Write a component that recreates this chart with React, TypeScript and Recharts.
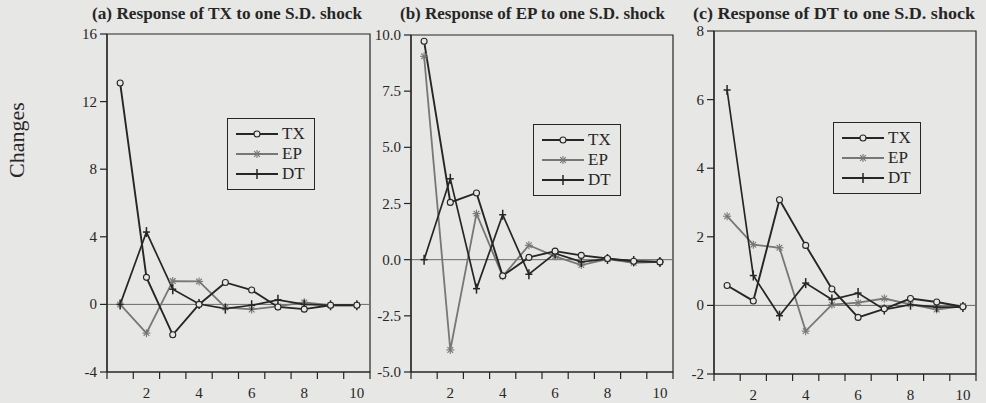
import React from "react";
import { LineChart, Line, XAxis, YAxis, ReferenceLine, ReferenceArea, Legend } from "recharts";

const periods = [1, 2, 3, 4, 5, 6, 7, 8, 9, 10];

// (a) response of TX
const txA = [13.1, 1.6, -1.8, 0.0, 1.3, 0.85, -0.15, -0.28, -0.05, -0.05];
const epA = [0.0, -1.7, 1.38, 1.36, -0.18, -0.3, -0.12, 0.12, -0.05, -0.05];
const dtA = [0.0, 4.28, 0.9, 0.02, -0.25, -0.05, 0.27, 0.0, -0.05, -0.05];

// (b) response of EP
const txB = [9.72, 2.55, 2.97, -0.72, 0.1, 0.38, 0.19, 0.05, -0.07, -0.1];
const epB = [9.05, -4.02, 2.05, -0.74, 0.64, 0.15, -0.24, 0.02, -0.14, -0.1];
const dtB = [0.0, 3.6, -1.29, 2.0, -0.65, 0.28, -0.1, 0.03, -0.06, -0.1];

// (c) response of DT
const txC = [0.58, 0.13, 3.08, 1.75, 0.48, -0.35, -0.1, 0.2, 0.1, -0.04];
const epC = [2.6, 1.77, 1.68, -0.75, 0.02, 0.08, 0.2, 0.03, -0.12, -0.02];
const dtC = [6.28, 0.87, -0.3, 0.65, 0.17, 0.36, -0.12, 0.02, -0.05, -0.05];

const yTicksA = [-4, 0, 4, 8, 12, 16];
const yTicksB = [-5, -2.5, 0, 2.5, 5, 7.5, 10];
const yTicksC = [-2, 0, 2, 4, 6, 8];
const xLabels = [2, 4, 6, 8, 10];
const xBounds = [0.5, 1.5, 2.5, 3.5, 4.5, 5.5, 6.5, 7.5, 8.5, 9.5, 10.5];

const BG = "#e7e7e5";
const INK = "#262626";
const GRAY = "#777777";
const FONT = "Liberation Serif, DejaVu Serif, serif";

const rows = (tx: number[], ep: number[], dt: number[]) =>
  periods.map((p, i) => ({ p, TX: tx[i], EP: ep[i], DT: dt[i] }));

const Circle = ({ cx, cy }: any) => (
  <circle cx={cx} cy={cy} r={3} fill={BG} stroke={INK} strokeWidth={1.1} />
);

const Star = ({ cx, cy }: any) => {
  const r = 4;
  const d = r * 0.71;
  return (
    <g stroke={GRAY} strokeWidth={1.1}>
      <line x1={cx - r} y1={cy} x2={cx + r} y2={cy} />
      <line x1={cx} y1={cy - r} x2={cx} y2={cy + r} />
      <line x1={cx - d} y1={cy - d} x2={cx + d} y2={cy + d} />
      <line x1={cx - d} y1={cy + d} x2={cx + d} y2={cy - d} />
    </g>
  );
};

const Plus = ({ cx, cy }: any) => (
  <g stroke={INK} strokeWidth={1.5}>
    <line x1={cx - 3.5} y1={cy} x2={cx + 3.5} y2={cy} />
    <line x1={cx} y1={cy - 5} x2={cx} y2={cy + 5} />
  </g>
);

const XTick = (props: any) => {
  const { x, y, payload } = props;
  const v = payload.value;
  if (v % 1 !== 0) {
    return <line x1={x} y1={y} x2={x} y2={y + 7} stroke={INK} strokeWidth={1.2} />;
  }
  return (
    <text x={x} y={y + 26} textAnchor="middle" fontFamily={FONT} fontSize={15} fill={INK}>
      {v}
    </text>
  );
};

const makeYTick = (fmt: (v: number) => string) => (props: any) => {
  const { x, y, payload } = props;
  return (
    <text x={x} y={y + 5} textAnchor="end" fontFamily={FONT} fontSize={15} fill={INK}>
      {fmt(payload.value)}
    </text>
  );
};

const LegendBox = () => {
  const items = [
    { name: "TX", color: INK, M: Circle },
    { name: "EP", color: GRAY, M: Star },
    { name: "DT", color: INK, M: Plus },
  ];
  return (
    <div
      style={{
        border: `1.2px solid ${INK}`,
        background: BG,
        width: 88,
        height: 72,
        boxSizing: "border-box",
        padding: "5px 0 0 8px",
      }}
    >
      {items.map(({ name, color, M }) => (
        <div key={name} style={{ display: "flex", alignItems: "center", height: 20 }}>
          <svg width={42} height={14}>
            <line x1={0} y1={7} x2={42} y2={7} stroke={color} strokeWidth={2} />
            <M cx={21} cy={7} />
          </svg>
          <span style={{ fontFamily: FONT, fontSize: 17, color: INK, marginLeft: 4, lineHeight: "20px" }}>
            {name}
          </span>
        </div>
      ))}
    </div>
  );
};

interface PanelProps {
  data: { p: number; TX: number; EP: number; DT: number }[];
  yTicks: number[];
  fmt: (v: number) => string;
  left: number;
  right: number;
  top: number;
  bottom: number;
  legendX: number;
  legendY: number;
}

const Panel = ({ data, yTicks, fmt, left, right, top, bottom, legendX, legendY }: PanelProps) => {
  const axisW = 50;
  const w = axisW + (right - left) + 8;
  const lo = yTicks[0];
  const hi = yTicks[yTicks.length - 1];
  const YTick = makeYTick(fmt);
  return (
    <div style={{ position: "absolute", left: left - axisW, top: 0 }}>
      <LineChart width={w} height={403} data={data} margin={{ top, right: 8, left: 0, bottom: 0 }}>
        <XAxis
          dataKey="p"
          type="number"
          domain={[0.5, 10.5]}
          ticks={[...xBounds, ...xLabels]}
          interval={0}
          tickSize={0}
          tickMargin={0}
          tick={<XTick />}
          height={403 - bottom}
          axisLine={{ stroke: INK, strokeWidth: 1.2 }}
        />
        <YAxis
          type="number"
          domain={[lo, hi]}
          ticks={yTicks}
          interval={0}
          width={axisW}
          tickSize={7}
          tickMargin={3}
          tick={<YTick />}
          tickLine={{ stroke: INK, strokeWidth: 1.2 }}
          axisLine={{ stroke: INK, strokeWidth: 1.2 }}
        />
        <ReferenceArea x1={0.5} x2={10.5} y1={lo} y2={hi} fill="none" stroke={INK} strokeWidth={1.2} />
        <ReferenceLine y={0} stroke="#6a6a6a" strokeWidth={1} />
        <Line
          dataKey="EP"
          type="linear"
          stroke={GRAY}
          strokeWidth={1.8}
          dot={(p: any) => <Star key={`ep-${p.index}`} cx={p.cx} cy={p.cy} />}
          activeDot={false}
          isAnimationActive={false}
        />
        <Line
          dataKey="DT"
          type="linear"
          stroke={INK}
          strokeWidth={1.7}
          dot={(p: any) => <Plus key={`dt-${p.index}`} cx={p.cx} cy={p.cy} />}
          activeDot={false}
          isAnimationActive={false}
        />
        <Line
          dataKey="TX"
          type="linear"
          stroke={INK}
          strokeWidth={1.9}
          dot={(p: any) => <Circle key={`tx-${p.index}`} cx={p.cx} cy={p.cy} />}
          activeDot={false}
          isAnimationActive={false}
        />
        <Legend
          layout="horizontal"
          verticalAlign="middle"
          align="center"
          content={() => <LegendBox />}
          wrapperStyle={{ position: "absolute", left: legendX, top: legendY, width: "auto" }}
        />
      </LineChart>
    </div>
  );
};

const titles = [
  { text: "(a) Response of TX to one S.D. shock", x0: 92, x1: 362 },
  { text: "(b) Response of EP to one S.D. shock", x0: 400, x1: 665 },
  { text: "(c) Response of DT to one S.D. shock", x0: 693, x1: 975 },
];

export default function App() {
  const int = (v: number) => String(v);
  const dec = (v: number) => v.toFixed(1);
  return (
    <div style={{ position: "fixed", left: 0, top: 0, width: 986, height: 403, background: BG, overflow: "hidden" }}>
      <Panel data={rows(txA, epA, dtA)} yTicks={yTicksA} fmt={int} left={107} right={370} top={34} bottom={372} legendX={170} legendY={118} />
      <Panel data={rows(txB, epB, dtB)} yTicks={yTicksB} fmt={dec} left={411} right={673} top={35} bottom={372} legendX={172} legendY={124} />
      <Panel data={rows(txC, epC, dtC)} yTicks={yTicksC} fmt={int} left={714} right={976} top={31} bottom={374} legendX={169} legendY={122} />
      <svg width={986} height={403} style={{ position: "absolute", left: 0, top: 0, pointerEvents: "none" }}>
        {titles.map((t) => (
          <text
            key={t.text}
            x={t.x0}
            y={19}
            textLength={t.x1 - t.x0}
            lengthAdjust="spacingAndGlyphs"
            fontFamily={FONT}
            fontWeight="bold"
            fontSize={16}
            fill={INK}
          >
            {t.text}
          </text>
        ))}
        <text
          x={0}
          y={0}
          transform="translate(24,140) rotate(-90)"
          textAnchor="middle"
          fontFamily={FONT}
          fontSize={22}
          fill={INK}
        >
          Changes
        </text>
      </svg>
    </div>
  );
}
